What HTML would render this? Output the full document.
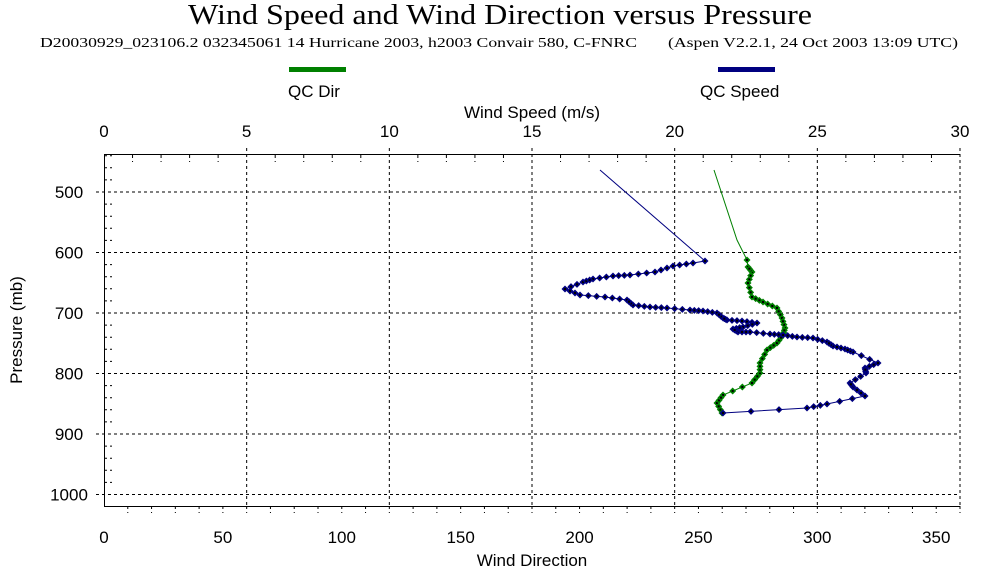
<!DOCTYPE html><html><head><style>body{margin:0;background:#fff;width:1000px;height:572px;overflow:hidden}</style></head><body>
<svg width="1000" height="572" xmlns="http://www.w3.org/2000/svg" font-family="Liberation Sans, sans-serif">
<text x="188" y="24" textLength="624" lengthAdjust="spacingAndGlyphs" font-family="Liberation Serif, serif" font-size="28">Wind Speed and Wind Direction versus Pressure</text>
<text x="40" y="47" textLength="597" lengthAdjust="spacingAndGlyphs" font-family="Liberation Serif, serif" font-size="14">D20030929_023106.2 032345061 14 Hurricane 2003, h2003 Convair 580, C-FNRC</text>
<text x="668" y="47" textLength="290" lengthAdjust="spacingAndGlyphs" font-family="Liberation Serif, serif" font-size="14">(Aspen V2.2.1, 24 Oct 2003  13:09 UTC)</text>
<rect x="289" y="67" width="57" height="5" fill="#008000"/>
<rect x="718" y="67" width="57" height="5" fill="#000080"/>
<text x="288" y="97" font-size="17">QC Dir</text>
<text x="700" y="97" font-size="17">QC Speed</text>
<text x="532" y="118" text-anchor="middle" font-size="17">Wind Speed (m/s)</text>
<text x="532" y="566" text-anchor="middle" font-size="17">Wind Direction</text>
<text transform="translate(22,330) rotate(-90)" text-anchor="middle" font-size="17">Pressure (mb)</text>
<g font-size="17" text-anchor="middle" id="t"></g>
<g stroke="#000" stroke-dasharray="3,3" stroke-width="1" id="g"></g>
<line x1="104" y1="154.5" x2="960" y2="154.5" stroke="#000"/>
<line x1="104.5" y1="154" x2="104.5" y2="506" stroke="#000"/>
<line x1="104" y1="506.5" x2="960" y2="506.5" stroke="#000"/>
<polyline id="sp" fill="none" stroke="#000080" stroke-width="1"/>
<polyline id="dr" fill="none" stroke="#008000" stroke-width="1"/>
<g id="m"></g>
</svg>
<script>
var ns="http://www.w3.org/2000/svg";
function el(p,t,a,tx){var e=document.createElementNS(ns,t);for(var k in a)e.setAttribute(k,a[k]);if(tx!=null)e.textContent=tx;document.getElementById(p).appendChild(e);return e;}
for(var i=0;i<=6;i++){var x=104+i*856/6;el('t','text',{x:x,y:137},i*5);if(i>0)el('g','line',{x1:x,y1:148,x2:x,y2:506});}
for(var i=1;i<30;i++){if(i%5){var x=104+i*856/30;el('g','line',{x1:x,y1:155,x2:x,y2:162});}}
for(var d=0;d<=350;d+=50){el('t','text',{x:104+d*856/360,y:543},d);}
for(var d=10;d<=360;d+=10){var x=104+d*856/360;el('g','line',{x1:x,y1:506,x2:x,y2:513});}
function py(p){return 192+(p-500)*0.605;}
for(var p=500;p<=1000;p+=100){var y=py(p);el('t','text',{x:69,y:y+6},p);el('g','line',{x1:96,y1:y,x2:960,y2:y});}
for(var p=440;p<=1010;p+=20){if(p%100){var y=py(p);el('g','line',{x1:104,y1:y,x2:112,y2:y});}}
var sp=[[600,170],[705,261],[693,263],[673,266],[655,272],[630,275],[613,276],[593,279],[583,282],[565,289],[580,295],[605,297],[627,300],[633,305],[650,307],[667,308],[690,310],[703,311],[717,313],[723,318],[727,320],[742,321],[757,323],[743,327],[733,329],[738,332],[750,332],[770,334],[783,335],[797,337],[813,338],[827,342],[833,346],[845,349],[853,352],[878,363],[865,368],[866,373],[850,383],[853,387],[865,396],[827,404],[807,408],[723,413]];
var dr=[[714,170],[737,240],[747,260],[748,267],[752,272],[748,283],[752,297],[763,302],[777,308],[782,318],[785,328],[783,335],[777,343],[767,350],[760,363],[760,373],[752,383],[723,395],[717,403],[722,413]];
document.getElementById('sp').setAttribute('points',sp.join(' '));
document.getElementById('dr').setAttribute('points',dr.join(' '));
function marks(a,col,skip){for(var i=skip;i<a.length;i++){var n=(i<=skip+1)?1:3;for(var k=0;k<n;k++){var t=k/n;var x=a[i][0]*(1-t)+a[i-1][0]*t,y=a[i][1]*(1-t)+a[i-1][1]*t;
el('m','polygon',{points:(x-3.5)+','+y+' '+x+','+(y-3.5)+' '+(x+3.5)+','+y+' '+x+','+(y+3.5),fill:col});el('m','rect',{x:x-1,y:y-1,width:2,height:2,fill:'#000'});}}}
marks(dr,'#008000',2);marks(sp,'#000080',1);
</script>
</body></html>
